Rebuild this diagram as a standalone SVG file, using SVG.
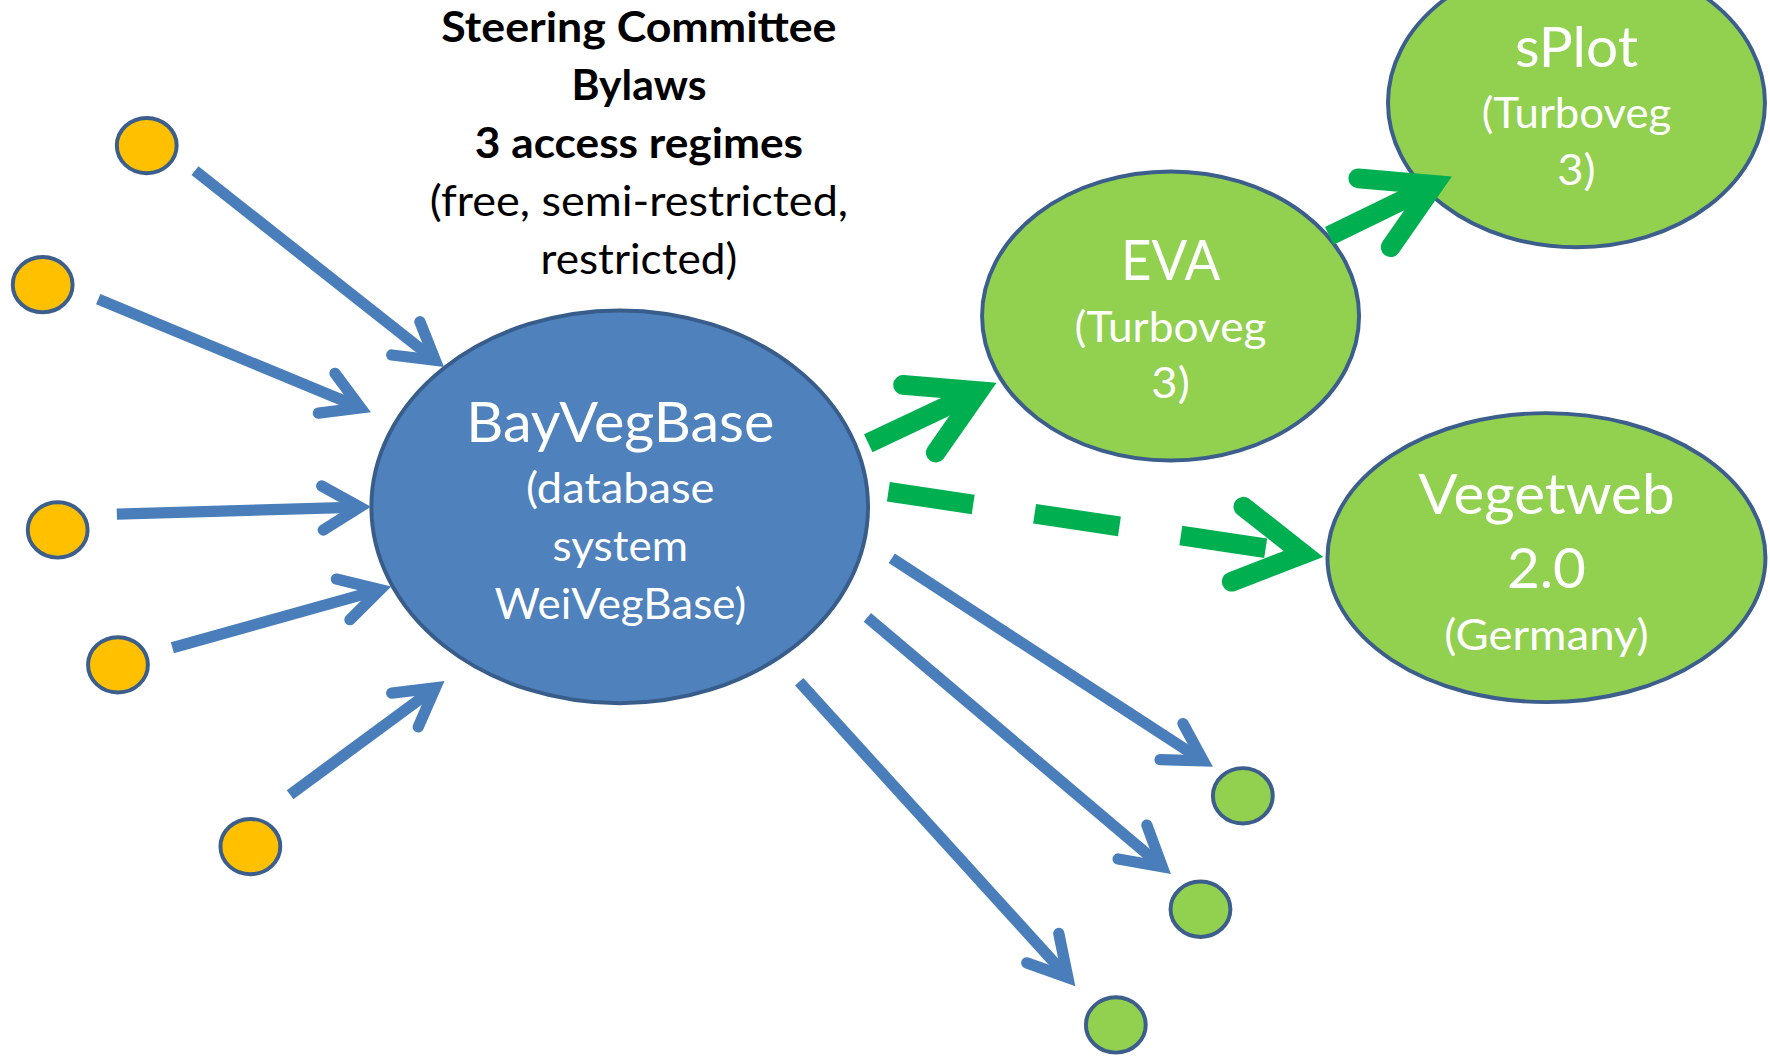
<svg xmlns="http://www.w3.org/2000/svg" width="1770" height="1057" viewBox="0 0 1770 1057">
<style>
.big{fill:#4F81BD;stroke:#385D8A;stroke-width:3.5}
.grn{fill:#92D050;stroke:#3B5E8C;stroke-width:3.5}
.yel{fill:#FFC000;stroke:#3B5E8C;stroke-width:3.5}
.dot{fill:#92D050;stroke:#3B5E8C;stroke-width:3.5}
.t{font-family:Lato,"Open Sans","DejaVu Sans",sans-serif;text-anchor:middle}
.title{fill:#000;font-size:37.4px}
.b{font-weight:bold}
.w{fill:#fff}
.L{font-size:49.5px}
.S{font-size:37.4px}
.sh{fill:none;stroke:#4A7EBB;stroke-width:10;stroke-linecap:butt}
.hd{fill:none;stroke:#4A7EBB;stroke-width:10;stroke-linecap:round;stroke-linejoin:miter;stroke-miterlimit:10}
.gsh{fill:none;stroke:#00B050;stroke-width:17.5;stroke-linecap:butt}
.ghd{fill:none;stroke:#00B050;stroke-width:17.5;stroke-linecap:round;stroke-linejoin:miter;stroke-miterlimit:10}
</style>
<rect width="1770" height="1057" fill="#fff"/>
<g transform="scale(1.1288)">
<g id="title">
<text class="t title b" x="566" y="37" textLength="350" lengthAdjust="spacingAndGlyphs">Steering Committee</text>
<text class="t title b" x="566" y="88.5" textLength="119.6" lengthAdjust="spacingAndGlyphs">Bylaws</text>
<text class="t title b" x="566" y="140" textLength="290.8" lengthAdjust="spacingAndGlyphs">3 access regimes</text>
<text class="t title" x="566" y="191.5" textLength="370.6" lengthAdjust="spacingAndGlyphs">(free, semi-restricted,</text>
<text class="t title" x="566" y="243" textLength="174.3" lengthAdjust="spacingAndGlyphs">restricted)</text>
</g>
<g id="bayvegbase">
<ellipse class="big" cx="549" cy="449" rx="220" ry="174"/>
<text class="t w L" x="549.5" y="392" textLength="273" lengthAdjust="spacingAndGlyphs">BayVegBase</text>
<text class="t w S" x="549.5" y="446" textLength="167" lengthAdjust="spacingAndGlyphs">(database</text>
<text class="t w S" x="549.5" y="497" textLength="120" lengthAdjust="spacingAndGlyphs">system</text>
<text class="t w S" x="549.5" y="548" textLength="223" lengthAdjust="spacingAndGlyphs">WeiVegBase)</text>
</g>
<g id="eva">
<ellipse class="grn" cx="1037" cy="280" rx="167" ry="128"/>
<text class="t w L" x="1037" y="248" textLength="88" lengthAdjust="spacingAndGlyphs">EVA</text>
<text class="t w S" x="1037" y="302.7" textLength="170" lengthAdjust="spacingAndGlyphs">(Turboveg</text>
<text class="t w S" x="1037" y="352.7" textLength="34" lengthAdjust="spacingAndGlyphs">3)</text>
</g>
<g id="splot">
<ellipse class="grn" cx="1396.6" cy="91" rx="167" ry="128"/>
<text class="t w L" x="1396.6" y="59" textLength="109" lengthAdjust="spacingAndGlyphs">sPlot</text>
<text class="t w S" x="1396.6" y="113.7" textLength="168" lengthAdjust="spacingAndGlyphs">(Turboveg</text>
<text class="t w S" x="1396.6" y="164" textLength="34" lengthAdjust="spacingAndGlyphs">3)</text>
</g>
<g id="vegetweb">
<ellipse class="grn" cx="1370" cy="494" rx="194" ry="128"/>
<text class="t w L" x="1370" y="455" textLength="227" lengthAdjust="spacingAndGlyphs">Vegetweb</text>
<text class="t w L" x="1370" y="521" textLength="70" lengthAdjust="spacingAndGlyphs">2.0</text>
<text class="t w S" x="1370" y="576" textLength="181" lengthAdjust="spacingAndGlyphs">(Germany)</text>
</g>
<g id="source1"><ellipse class="yel" cx="130" cy="129" rx="26.5" ry="24.5"/></g>
<g id="source2"><ellipse class="yel" cx="37.8" cy="252.2" rx="26.5" ry="24.5"/></g>
<g id="source3"><ellipse class="yel" cx="51.1" cy="469.5" rx="26.5" ry="24.5"/></g>
<g id="source4"><ellipse class="yel" cx="104.5" cy="589" rx="26.5" ry="24.5"/></g>
<g id="source5"><ellipse class="yel" cx="221.8" cy="750" rx="26.5" ry="24.5"/></g>
<g id="user1"><ellipse class="dot" cx="1101" cy="705" rx="26.5" ry="24.5"/></g>
<g id="user2"><ellipse class="dot" cx="1063.5" cy="805.5" rx="26.5" ry="24.5"/></g>
<g id="user3"><ellipse class="dot" cx="988.5" cy="908" rx="26.5" ry="24.5"/></g>
<g id="connectors">
<path class="sh" d="M172.7,151.2 L385.6,319.2"/>
<path class="hd" d="M372,285 L385.6,319.2 L347,314.5"/>
<path class="sh" d="M87,265 L319.5,361.3"/>
<path class="hd" d="M296.8,330.7 L319.5,361.3 L282,366"/>
<path class="sh" d="M103.5,455.4 L318.8,449.2"/>
<path class="hd" d="M285,430.5 L318.8,449.2 L286.4,469.5"/>
<path class="sh" d="M152.7,573.8 L336.8,522.4"/>
<path class="hd" d="M298,513 L336.8,522.4 L310,549"/>
<path class="sh" d="M257,704 L385.7,609.3"/>
<path class="hd" d="M347,614 L385.7,609.3 L370.5,644"/>
<path class="sh" d="M790,494.6 L1066,674.1"/>
<path class="hd" d="M1048,641 L1066,674.1 L1027.7,673"/>
<path class="sh" d="M768.4,546.9 L1029.6,767.8"/>
<path class="hd" d="M1016,731 L1029.6,767.8 L990.5,761"/>
<path class="sh" d="M708,604 L946,866"/>
<path class="hd" d="M938,827 L946,866 L909.6,853"/>
<path class="gsh" d="M769.2,392.7 L867,346.5"/>
<path class="ghd" d="M800,341 L867,346.5 L829,401"/>
<path class="gsh" d="M1177.6,209 L1270.4,163.8"/>
<path class="ghd" d="M1203.3,158 L1270.4,163.8 L1232,219"/>
<path class="gsh" d="M787,435.6 L1121.5,485.8" stroke-dasharray="76 55"/>
<path class="ghd" d="M1101.5,448.9 L1154.7,490.8 L1091.2,515.3"/>
</g>
</g>
</svg>
